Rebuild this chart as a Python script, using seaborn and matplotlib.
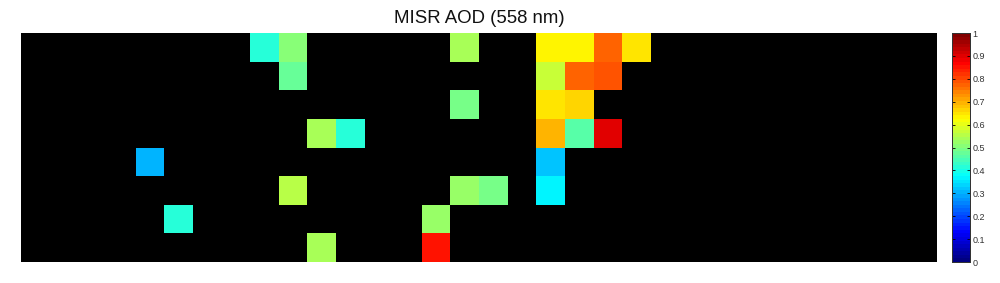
import numpy as np
import pandas as pd
import seaborn as sns
import matplotlib
matplotlib.use("Agg")
import matplotlib.pyplot as plt
from matplotlib.colors import LinearSegmentedColormap

n_rows = 8
n_cols = 32
cell_rows = [0, 0, 0, 0, 0, 0, 0,
             1, 1, 1, 1,
             2, 2, 2,
             3, 3, 3, 3, 3,
             4, 4,
             5, 5, 5, 5,
             6, 6,
             7, 7]
cell_cols = [8, 9, 15, 18, 19, 20, 21,
             9, 18, 19, 20,
             15, 18, 19,
             10, 11, 18, 19, 20,
             4, 18,
             9, 15, 16, 18,
             5, 14,
             10, 14]
aod_values = [0.42, 0.50, 0.54, 0.625, 0.625, 0.77, 0.655,
              0.475, 0.565, 0.77, 0.79,
              0.485, 0.655, 0.66,
              0.54, 0.42, 0.70, 0.455, 0.90,
              0.307, 0.316,
              0.547, 0.527, 0.497, 0.37,
              0.42, 0.527,
              0.537, 0.855]
cbar_ticks = [0, 0.1, 0.2, 0.3, 0.4, 0.5, 0.6, 0.7, 0.8, 0.9, 1]
cbar_labels = ["0", "0.1", "0.2", "0.3", "0.4", "0.5", "0.6", "0.7", "0.8", "0.9", "1"]

grid = np.full((n_rows, n_cols), np.nan)
for r, c, v in zip(cell_rows, cell_cols, aod_values):
    grid[r, c] = v
df = pd.DataFrame(grid)

# MATLAB-style jet (the reference's stops differ a little from matplotlib's)
matlab_jet = LinearSegmentedColormap.from_list(
    "matlab_jet",
    [(0.0, (0, 0, 0.5)), (0.125, (0, 0, 1)), (0.375, (0, 1, 1)),
     (0.625, (1, 1, 0)), (0.875, (1, 0, 0)), (1.0, (0.5, 0, 0))],
    N=64,
)

W, H = 1000, 283
fig = plt.figure(figsize=(W / 100, H / 100), dpi=100, facecolor="white")
ax = fig.add_axes([21 / W, 1 - 262 / H, 916 / W, 229 / H])
cax = fig.add_axes([952 / W, 1 - 262 / H, 18 / W, 229 / H])

sns.heatmap(df, ax=ax, cbar_ax=cax, cmap=matlab_jet, vmin=0, vmax=1,
            xticklabels=False, yticklabels=False, square=False,
            cbar_kws={"ticks": cbar_ticks})
ax.set_facecolor("black")
ax.tick_params(length=0)
ax.set_xlabel("")
ax.set_ylabel("")
ax.set_title("MISR AOD (558 nm)", fontsize=13.4, family="Liberation Sans", color="#111111", pad=7)

cax.set_yticks(cbar_ticks)
cax.set_yticklabels(cbar_labels, fontsize=6.5, family="Liberation Sans", color="#333333")
cax.tick_params(axis="y", direction="in", length=2, width=0.6, color="black", pad=2,
                left=True, right=True)
for s in cax.spines.values():
    s.set_visible(True)
    s.set_linewidth(0.7)
    s.set_color("#333333")

fig.savefig("out.png", dpi=100)
